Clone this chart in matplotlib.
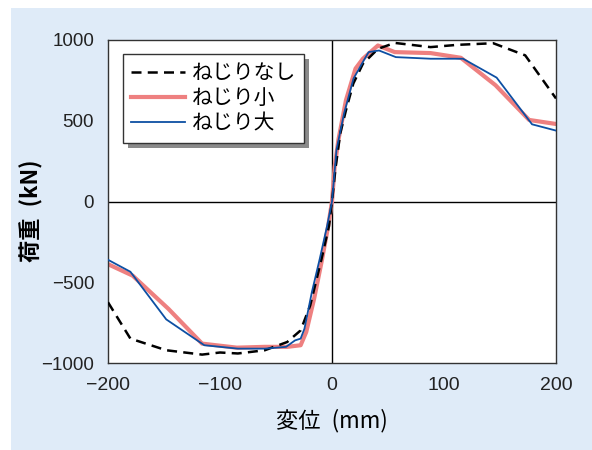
import matplotlib
matplotlib.use("Agg")
import matplotlib.pyplot as plt
from matplotlib.patches import Rectangle

plt.rcParams['font.family'] = ['Noto Sans CJK JP', 'DejaVu Sans']

# ねじりなし
x_none = [-200, -180, -148, -116, -100, -84, -60, -40, -28, -19.5, -9.4, -2.7, 0,
          3, 7.4, 12.5, 19, 27.6, 41, 56, 88, 112, 144, 172.5, 200]
y_none = [-624, -849, -921, -948, -935, -941, -921, -870, -798, -644, -357, -152, 0,
          200, 423, 566, 730, 853, 945, 982, 956, 970, 980, 905, 638]

# ねじり小
x_small = [-200, -178, -146, -116, -85, -60, -40, -28, -23, -16, -9.4, -3.4, 0,
           2.4, 5.7, 12.5, 21, 27.6, 41, 56, 88, 115, 146, 176, 200]
y_small = [-388, -459, -665, -880, -905, -900, -900, -890, -808, -603, -377, -152, 0,
           217, 381, 628, 823, 884, 966, 925, 919, 890, 720, 505, 480]

# ねじり大
x_large = [-200, -180, -148, -114, -84, -60, -41, -33, -28, -24.6, -18, -11, -4.4, 0,
           4, 10.8, 19.2, 27.6, 32.7, 42, 57, 88, 117, 147, 178.6, 200]
y_large = [-361, -435, -730, -890, -911, -911, -900, -860, -849, -788, -562, -357, -152, 0,
           320, 546, 761, 864, 925, 935, 894, 884, 884, 767, 478, 439]

labels = ['ねじりなし', 'ねじり小', 'ねじり大']
x_ticks = [-200, -100, 0, 100, 200]
y_ticks = [-1000, -500, 0, 500, 1000]

fig = plt.figure(figsize=(5.92, 4.5), dpi=100)
fig.patch.set_facecolor('white')
# light blue panel behind everything
fig.patches.append(Rectangle((11 / 592, 0), 1 - 11 / 592, 1 - 8 / 450,
                             transform=fig.transFigure, facecolor='#dfebf8',
                             edgecolor='none', zorder=-5))

ax = fig.add_axes([108 / 592, 87 / 450, 448 / 592, 323 / 450])
ax.set_facecolor('white')

ax.axhline(0, color='black', lw=1.0, zorder=1)
ax.axvline(0, color='black', lw=1.0, zorder=1)

ax.plot(x_none, y_none, color='black', lw=1.8, ls=(0, (4, 2.5)), label=labels[0], zorder=3)
ax.plot(x_small, y_small, color='#ee8080', lw=3.0, label=labels[1], zorder=2)
ax.plot(x_large, y_large, color='#0d4fa3', lw=1.3, label=labels[2], zorder=4)

ax.set_xlim(-200, 200)
ax.set_ylim(-1000, 1000)
ax.set_xticks(x_ticks)
ax.set_yticks(y_ticks)
ax.set_xticklabels([str(v).replace('-', '\u2212') for v in x_ticks], family='Liberation Sans')
ax.set_yticklabels([str(v).replace('-', '\u2212') for v in y_ticks], family='Liberation Sans')
ax.tick_params(axis='x', length=0, labelsize=14, pad=10, colors='#222222')
ax.tick_params(axis='y', length=0, labelsize=13.5, pad=10, colors='#222222')
for s in ax.spines.values():
    s.set_linewidth(1.0)
    s.set_color('#333333')

ax.set_xlabel('変位\u2002(mm)', fontsize=16, labelpad=11)
ax.set_ylabel('荷重\u2002(kN)', fontsize=16, fontweight='bold')
ax.yaxis.set_label_coords(-0.145, 0.47)

leg = ax.legend(loc='upper left', bbox_to_anchor=(0.033, 0.957), borderaxespad=0,
                fontsize=15, handlelength=2.6, handletextpad=0.3, labelspacing=0.15,
                borderpad=0.4, fancybox=False, framealpha=1, edgecolor='#333333')
leg.get_frame().set_linewidth(1.0)
leg.set_zorder(10)

fig.canvas.draw()
bb = leg.get_window_extent()
shadow = Rectangle((bb.x0 + 5, bb.y0 - 5), bb.width, bb.height,
                   transform=None, facecolor='#8a8a8a', edgecolor='none',
                   zorder=6, clip_on=False)
ax.add_artist(shadow)

fig.savefig('out.png', dpi=100)
